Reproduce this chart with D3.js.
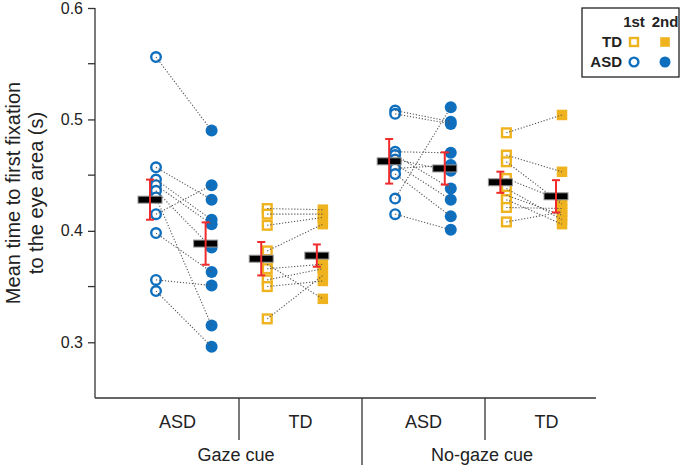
<!DOCTYPE html>
<meta charset="utf-8">
<style>
  body { margin: 0; background: #fff; }
</style>
<svg width="685" height="465" font-family="'Liberation Sans', Arial, sans-serif"></svg>
<script src="https://cdn.jsdelivr.net/npm/d3@7"></script>
<script>

// ---- data ----
var conditions = ["Gaze cue", "No-gaze cue"];
var groups = ["ASD", "TD"];
var sessions = ["1st", "2nd"];
var yTicks = [0.3, 0.4, 0.5, 0.6];
var yMinorTicks = [0.35, 0.45, 0.55];

// one entry per subject, 1st and 2nd session paired by index
var asdGaze1st   = [0.556, 0.457, 0.446, 0.441, 0.436, 0.430, 0.415, 0.398, 0.356, 0.346];
var asdGaze2nd   = [0.490, 0.428, 0.410, 0.406, 0.385, 0.315, 0.441, 0.363, 0.351, 0.296];
var tdGaze1st    = [0.420, 0.415, 0.405, 0.382, 0.370, 0.366, 0.356, 0.350, 0.321];
var tdGaze2nd    = [0.419, 0.415, 0.412, 0.406, 0.339, 0.370, 0.366, 0.355, 0.360];
var asdNoGaze1st = [0.508, 0.505, 0.471, 0.468, 0.464, 0.460, 0.456, 0.451, 0.429, 0.415];
var asdNoGaze2nd = [0.498, 0.496, 0.470, 0.438, 0.454, 0.428, 0.459, 0.413, 0.511, 0.401];
var tdNoGaze1st  = [0.488, 0.468, 0.462, 0.447, 0.438, 0.432, 0.428, 0.421, 0.408];
var tdNoGaze2nd  = [0.504, 0.453, 0.424, 0.427, 0.410, 0.414, 0.406, 0.420, 0.417];

// group means and SEM, panel order: ASD gaze, TD gaze, ASD no-gaze, TD no-gaze
var mean1st = [0.428, 0.375, 0.4624, 0.4436];
var mean2nd = [0.3886, 0.3778, 0.456, 0.431];
var sem1st  = [0.018, 0.015, 0.020, 0.0095];
var sem2nd  = [0.019, 0.010, 0.0145, 0.0145];

var panels = [
  {cond: conditions[0], group: groups[0], first: asdGaze1st, second: asdGaze2nd},
  {cond: conditions[0], group: groups[1], first: tdGaze1st, second: tdGaze2nd},
  {cond: conditions[1], group: groups[0], first: asdNoGaze1st, second: asdNoGaze2nd},
  {cond: conditions[1], group: groups[1], first: tdNoGaze1st, second: tdNoGaze2nd}
];
panels.forEach(function(p, i) {
  p.index = i;
  p.means = [mean1st[i], mean2nd[i]];
  p.sems = [sem1st[i], sem2nd[i]];
});

var blue = "#0f6fbf",
    gold = "#efb31f",
    red = "#ef2b2b";

var svg = d3.select("svg");

var y = d3.scaleLinear().domain([0.25, 0.6]).range([398, 8]);

// marker columns: two per panel, a wider gap between the two conditions
var slot = d3.scaleLinear().domain([0, 7.3]).range([156, 562]);
function xPos(panel, session) {
  return slot(panel * 2 + session + (panel >= 2 ? 0.3 : 0));
}

// category bands for the bottom labels
var xBand = d3.scaleBand().domain(d3.range(panels.length)).range([116, 608]);
var xCond = d3.scaleBand().domain(conditions).range([116, 608]);

// ---- y axis ----
var yAxis = svg.append("g")
    .attr("transform", "translate(95,0)")
    .call(d3.axisLeft(y).tickValues(yTicks).tickFormat(d3.format(".1f")).tickSize(7).tickPadding(5));
yAxis.select(".domain").attr("d", "M0," + y(0.6) + "V" + y(0.25)).attr("stroke", "#333").attr("stroke-width", 1.3);
yAxis.selectAll(".tick line").attr("stroke", "#333").attr("stroke-width", 1.3);
yAxis.selectAll(".tick text").attr("font-size", 16).attr("fill", "#222");

svg.append("g").selectAll("line")
  .data(yMinorTicks)
  .enter().append("line")
    .attr("x1", 88).attr("x2", 95)
    .attr("y1", y).attr("y2", y)
    .attr("stroke", "#333").attr("stroke-width", 1.3);

var title = svg.append("text")
    .attr("transform", "translate(20,193)rotate(-90)")
    .attr("text-anchor", "middle")
    .attr("font-size", 20)
    .attr("fill", "#222");
title.append("tspan").attr("x", 0).attr("y", 0).text("Mean time to first fixation");
title.append("tspan").attr("x", 0).attr("y", 23).text("to the eye area (s)");

// ---- bottom axis with group / condition labels ----
var bottom = svg.append("g").attr("stroke", "#333").attr("stroke-width", 1.3);
bottom.append("line").attr("x1", 95).attr("x2", 596).attr("y1", 398).attr("y2", 398);
bottom.selectAll("line.div")
  .data([1, 2, 3])
  .enter().append("line")
    .attr("class", "div")
    .attr("x1", function(d) { return xBand(d); })
    .attr("x2", function(d) { return xBand(d); })
    .attr("y1", 398)
    .attr("y2", function(d) { return d === 2 ? 465 : 440; });

svg.append("g").selectAll("text")
  .data(panels)
  .enter().append("text")
    .attr("x", function(d) { return xBand(d.index) + xBand.bandwidth() / 2; })
    .attr("y", 428)
    .attr("text-anchor", "middle")
    .attr("font-size", 18)
    .attr("fill", "#222")
    .text(function(d) { return d.group; });

svg.append("g").selectAll("text")
  .data(conditions)
  .enter().append("text")
    .attr("x", function(d) { return xCond(d) + xCond.bandwidth() / 2 - 3; })
    .attr("y", 461)
    .attr("text-anchor", "middle")
    .attr("font-size", 18)
    .attr("fill", "#222")
    .text(function(d) { return d; });

// ---- markers ----
function drawMarker(sel, group, session, size) {
  var col = group === "ASD" ? blue : gold;
  if (group === "ASD") {
    if (session === 0) {
      sel.append("circle").attr("r", size * 0.8).attr("fill", "#fff").attr("stroke", col).attr("stroke-width", 2.4);
    } else {
      sel.append("circle").attr("r", size).attr("fill", col);
    }
  } else {
    if (session === 0) {
      var s = size * 1.45;
      sel.append("rect").attr("x", -s / 2).attr("y", -s / 2).attr("width", s).attr("height", s)
        .attr("fill", "#fff").attr("stroke", col).attr("stroke-width", 2.4);
    } else {
      var f = size * 1.75;
      sel.append("rect").attr("x", -f / 2).attr("y", -f / 2).attr("width", f).attr("height", f).attr("fill", col);
    }
  }
}

var panelG = svg.append("g").selectAll("g")
  .data(panels)
  .enter().append("g");

panelG.each(function(p) {
  var g = d3.select(this);
  [p.first, p.second].forEach(function(vals, s) {
    g.append("g").selectAll("g")
      .data(vals)
      .enter().append("g")
        .attr("transform", function(d) { return "translate(" + xPos(p.index, s) + "," + y(d) + ")"; })
        .each(function() { drawMarker(d3.select(this), p.group, s, 6); });
  });
});

// dotted lines joining each subject's two sessions (drawn over markers)
panelG.each(function(p) {
  d3.select(this).append("g").selectAll("line")
    .data(p.first.map(function(v, i) { return [v, p.second[i]]; }))
    .enter().append("line")
      .attr("x1", xPos(p.index, 0))
      .attr("x2", xPos(p.index, 1))
      .attr("y1", function(d) { return y(d[0]); })
      .attr("y2", function(d) { return y(d[1]); })
      .attr("stroke", "#555")
      .attr("stroke-width", 1.1)
      .attr("stroke-dasharray", "1.2,1.8");
});

// mean bars and SEM error bars
panelG.each(function(p) {
  var g = d3.select(this);
  sessions.forEach(function(name, s) {
    var cx = xPos(p.index, s) - 6,
        m = p.means[s],
        e = p.sems[s];
    g.append("rect")
      .attr("x", cx - 12).attr("y", y(m) - 3.5)
      .attr("width", 24).attr("height", 7)
      .attr("fill", "#000")
      .attr("stroke", "#999").attr("stroke-width", 1);
    var eb = g.append("g").attr("stroke", red).attr("stroke-width", 2);
    eb.append("line").attr("x1", cx).attr("x2", cx).attr("y1", y(m + e)).attr("y2", y(m - e));
    eb.append("line").attr("x1", cx - 4).attr("x2", cx + 4).attr("y1", y(m + e)).attr("y2", y(m + e));
    eb.append("line").attr("x1", cx - 4).attr("x2", cx + 4).attr("y1", y(m - e)).attr("y2", y(m - e));
  });
});

// ---- legend ----
var legend = svg.append("g");
legend.append("rect")
    .attr("x", 582).attr("y", 8).attr("width", 97).attr("height", 69)
    .attr("fill", "#fff").attr("stroke", "#222").attr("stroke-width", 1.3);

var legX = [634, 665];
legend.selectAll("text.head")
  .data(sessions)
  .enter().append("text")
    .attr("class", "head")
    .attr("x", function(d, i) { return legX[i]; })
    .attr("y", 27)
    .attr("text-anchor", "middle")
    .attr("font-size", 15)
    .attr("font-weight", "bold")
    .attr("fill", "#222")
    .text(function(d) { return d; });

var legRows = ["TD", "ASD"];
legRows.forEach(function(grp, r) {
  var yy = 42 + r * 20;
  legend.append("text")
    .attr("x", 622).attr("y", yy + 5)
    .attr("text-anchor", "end")
    .attr("font-size", 15)
    .attr("font-weight", "bold")
    .attr("fill", "#222")
    .text(grp);
  sessions.forEach(function(name, s) {
    var m = legend.append("g").attr("transform", "translate(" + legX[s] + "," + yy + ")");
    drawMarker(m, grp, s, 5.5);
  });
});

</script>
